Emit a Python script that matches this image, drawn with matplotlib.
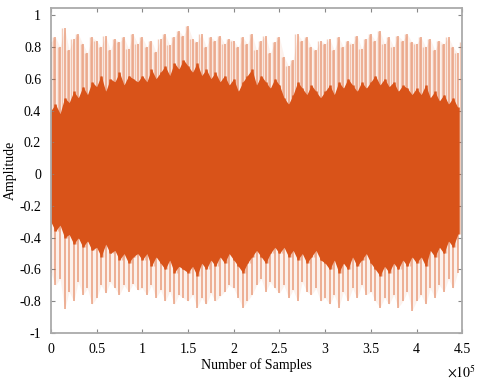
import numpy as np
import matplotlib
matplotlib.use('Agg')
import matplotlib.pyplot as plt

plt.rcParams['font.family'] = 'Liberation Serif'
plt.rcParams['mathtext.fontset'] = 'stix'

# sample positions (every 5000 samples)
samples = np.arange(90) * 5000

# light outer spikes (peaks)
peak_top = [0.83, 0.86, 0.80, 0.92, 0.78, 0.85, 0.88, 0.82, 0.76, 0.86,
            0.84, 0.80, 0.87, 0.78, 0.85, 0.83, 0.86, 0.79, 0.88, 0.82,
            0.86, 0.80, 0.84, 0.77, 0.85, 0.88, 0.81, 0.86, 0.90, 0.87,
            0.93, 0.85, 0.83, 0.88, 0.80, 0.86, 0.84, 0.87, 0.82, 0.85,
            0.84, 0.80, 0.86, 0.82, 0.88, 0.78, 0.84, 0.87, 0.76, 0.83,
            0.86, 0.74, 0.68, 0.72, 0.88, 0.84, 0.86, 0.80, 0.78, 0.84,
            0.82, 0.85, 0.78, 0.86, 0.80, 0.84, 0.82, 0.87, 0.79, 0.85,
            0.88, 0.84, 0.90, 0.82, 0.86, 0.80, 0.87, 0.84, 0.88, 0.83,
            0.82, 0.86, 0.80, 0.85, 0.78, 0.84, 0.82, 0.86, 0.80, 0.76]
peak_bot = [-0.62, -0.70, -0.66, -0.85, -0.74, -0.80, -0.68, -0.76, -0.72, -0.82,
            -0.78, -0.70, -0.75, -0.68, -0.72, -0.76, -0.70, -0.74, -0.69, -0.73,
            -0.72, -0.76, -0.70, -0.78, -0.73, -0.80, -0.74, -0.82, -0.76, -0.78,
            -0.80, -0.76, -0.84, -0.78, -0.82, -0.75, -0.80, -0.77, -0.74, -0.70,
            -0.72, -0.78, -0.84, -0.80, -0.76, -0.70, -0.66, -0.74, -0.68, -0.72,
            -0.75, -0.70, -0.78, -0.73, -0.80, -0.68, -0.74, -0.76, -0.72, -0.80,
            -0.78, -0.82, -0.76, -0.84, -0.74, -0.80, -0.72, -0.78, -0.70, -0.76,
            -0.74, -0.80, -0.84, -0.78, -0.82, -0.76, -0.84, -0.80, -0.74, -0.86,
            -0.80, -0.76, -0.82, -0.72, -0.78, -0.70, -0.74, -0.66, -0.72, -0.62]

# dense dark body of the waveform
core_top = [0.40, 0.44, 0.38, 0.48, 0.45, 0.52, 0.48, 0.55, 0.50, 0.58,
            0.55, 0.62, 0.52, 0.60, 0.58, 0.64, 0.56, 0.62, 0.60, 0.58,
            0.62, 0.58, 0.66, 0.60, 0.64, 0.68, 0.62, 0.70, 0.66, 0.72,
            0.68, 0.64, 0.70, 0.62, 0.66, 0.60, 0.64, 0.58, 0.62, 0.56,
            0.60, 0.52, 0.58, 0.62, 0.66, 0.56, 0.62, 0.58, 0.54, 0.60,
            0.56, 0.48, 0.44, 0.50, 0.58, 0.54, 0.50, 0.56, 0.52, 0.48,
            0.52, 0.56, 0.50, 0.58, 0.54, 0.60, 0.56, 0.52, 0.58, 0.54,
            0.58, 0.62, 0.56, 0.60, 0.55, 0.58, 0.52, 0.56, 0.54, 0.50,
            0.54, 0.50, 0.56, 0.48, 0.52, 0.46, 0.50, 0.44, 0.48, 0.42]
core_bot = [-0.30, -0.36, -0.32, -0.40, -0.38, -0.44, -0.40, -0.46, -0.42, -0.48,
            -0.46, -0.52, -0.44, -0.50, -0.48, -0.54, -0.50, -0.56, -0.52, -0.50,
            -0.54, -0.50, -0.58, -0.52, -0.56, -0.60, -0.54, -0.62, -0.58, -0.60,
            -0.62, -0.58, -0.64, -0.56, -0.60, -0.54, -0.58, -0.52, -0.56, -0.50,
            -0.54, -0.58, -0.62, -0.56, -0.52, -0.48, -0.52, -0.56, -0.50, -0.46,
            -0.50, -0.46, -0.52, -0.48, -0.54, -0.50, -0.56, -0.52, -0.48, -0.54,
            -0.56, -0.60, -0.54, -0.62, -0.56, -0.60, -0.52, -0.58, -0.54, -0.50,
            -0.56, -0.60, -0.64, -0.58, -0.62, -0.56, -0.60, -0.54, -0.58, -0.52,
            -0.56, -0.52, -0.58, -0.48, -0.52, -0.46, -0.50, -0.42, -0.46, -0.38]

yticks = [-1, -0.8, -0.6, -0.4, -0.2, 0, 0.2, 0.4, 0.6, 0.8, 1]
ytick_labels = ['-1', '-0.8', '-0.6', '-0.4', '-0.2', '0', '0.2', '0.4', '0.6', '0.8', '1']
xticks = [0, 50000, 100000, 150000, 200000, 250000, 300000, 350000, 400000, 450000]
xtick_labels = ['0', '0.5', '1', '1.5', '2', '2.5', '3', '3.5', '4', '4.5']

col = '#D95319'
fig = plt.figure(figsize=(4.8, 3.84), dpi=100)
ax = fig.add_axes([0.106, 0.133, 0.857, 0.846])

# faint haze + thin light spikes, then the dense body
ax.fill_between(samples, peak_bot, peak_top, color=col, alpha=0.08, lw=0)
ax.vlines(samples, peak_bot, peak_top, color=col, alpha=0.42, lw=1.4)
ax.vlines(samples + 2500, core_bot, peak_top[1:] + peak_top[:1], color=col, alpha=0.3, lw=1.0)
ax.fill_between(samples, core_bot, core_top, color=col, lw=0)
ax.vlines(samples, core_bot, core_top, color=col, lw=1.8)

ax.set_xlim(0, 450000)
ax.set_ylim(-1, 1.045)
ax.set_yticks(yticks)
ax.set_yticklabels(ytick_labels)
ax.set_xticks(xticks)
ax.set_xticklabels(xtick_labels)
ax.text(1.035, -0.098, r'$\times 10^5$', transform=ax.transAxes, ha='right',
        va='top', fontsize=10)

ax.tick_params(direction='in', top=True, right=True, length=3, color='#888888',
               labelsize=10, pad=7)
for s in ax.spines.values():
    s.set_color('#aaaaaa')
    s.set_linewidth(1.3)
ax.set_xlabel('Number of Samples', fontsize=10, labelpad=2)
ax.set_ylabel('Amplitude', fontsize=10, labelpad=2)

fig.savefig('out.png', dpi=100)
